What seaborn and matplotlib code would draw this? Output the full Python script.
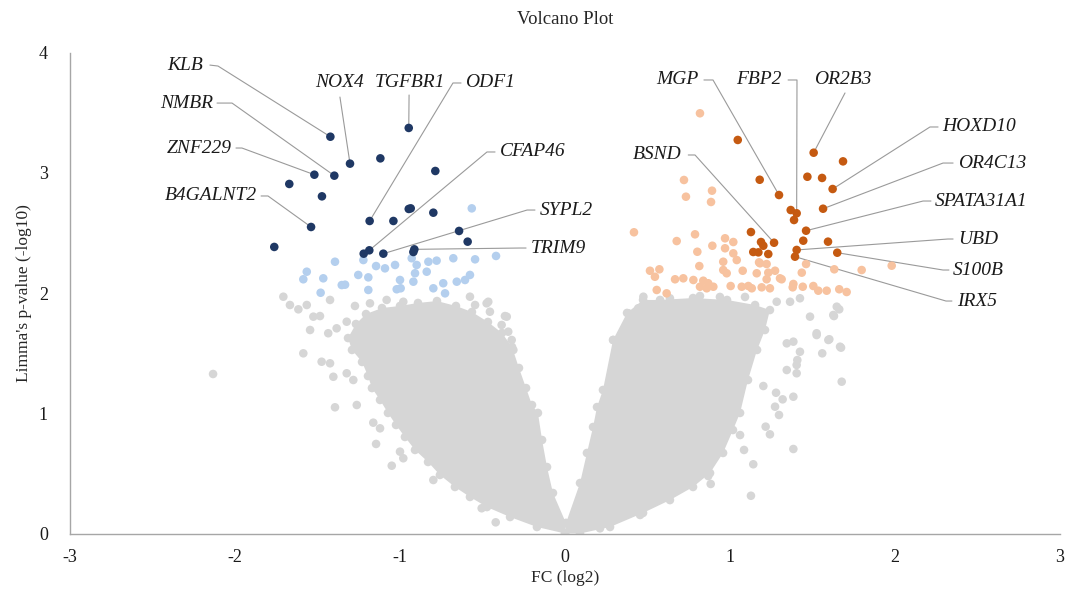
import numpy as np
import pandas as pd
import matplotlib
matplotlib.use("Agg")
import matplotlib.pyplot as plt
import seaborn as sns

# dense non-significant core of each lobe (outline)
core_left_fc = [0.0, -0.170, -0.333, -0.473, -0.576, -0.667, -0.758, -0.830, -0.909, -0.970,
                -1.024, -1.073, -1.121, -1.170, -1.194, -1.230, -1.291, -1.315, -1.267, -1.206,
                -1.109, -1.0, -0.891, -0.776, -0.661, -0.564, -0.467, -0.382, -0.321, -0.279,
                -0.236, -0.200, -0.164, -0.139, -0.109, -0.073, 0.006]
core_left_p = [0.0, 0.054, 0.137, 0.220, 0.304, 0.387, 0.487, 0.595, 0.695, 0.803,
               0.903, 1.003, 1.111, 1.210, 1.310, 1.427, 1.527, 1.626, 1.743, 1.826,
               1.876, 1.893, 1.918, 1.934, 1.893, 1.843, 1.760, 1.668, 1.552, 1.377,
               1.210, 1.069, 1.003, 0.778, 0.553, 0.337, 0.087]
core_right_fc = [0.0, 0.006, 0.091, 0.133, 0.170, 0.194, 0.230, 0.291, 0.376, 0.473,
                 0.576, 0.776, 0.982, 1.152, 1.242, 1.212, 1.164, 1.109, 1.061, 1.018,
                 0.958, 0.879, 0.776, 0.636, 0.473, 0.273, 0.091]
core_right_p = [0.0, 0.087, 0.420, 0.670, 0.886, 1.052, 1.194, 1.610, 1.835, 1.943,
                1.943, 1.959, 1.943, 1.901, 1.859, 1.693, 1.527, 1.277, 1.003, 0.861,
                0.670, 0.503, 0.387, 0.278, 0.171, 0.054, 0.0]

# scattered non-significant genes outside the dense core
grey_fc = [-1.707, -1.667, -1.616, -1.565, -1.525, -1.485, -1.545, -1.435, -1.384, -1.323,
           -1.273, -1.424, -1.586, -1.475, -1.424, -1.404, -1.323, -1.283, -1.394, -1.262,
           -1.162, -1.121, -1.145, -1.0, -1.050, -0.980, -0.798, -0.505, -0.420, -0.353,
           -0.313, -0.475, -0.576, -2.133, -0.465, -0.545, -0.455, -0.364, -0.384, -0.344,
           -0.323, -1.182, -1.081, -0.980,
           1.677, 1.384, 1.127, 1.141, 1.085, 1.242, 1.216, 1.061, 1.297, 1.273,
           1.384, 1.319, 1.279, 1.202, 1.404, 1.404, 1.344, 1.408, 1.424, 1.559,
           1.673, 1.602, 1.525, 1.485, 1.630, 1.662, 1.384, 1.344, 0.868, 0.883,
           0.212, 0.455, 0.384, 0.293, 0.475, 0.444, 0.505, 0.545, 0.576, 0.636,
           0.344, 1.283, 1.364, 1.424, 1.647, 1.626, 1.525, 1.596, 1.667, 0.818,
           0.939, 1.091]
grey_p = [1.970, 1.901, 1.865, 1.901, 1.804, 1.809, 1.693, 1.666, 1.707, 1.762,
          1.893, 1.943, 1.499, 1.429, 1.416, 1.304, 1.333, 1.277, 1.050, 1.069,
          0.922, 0.875, 0.745, 0.681, 0.564, 0.626, 0.445, 0.210, 0.093, 1.804,
          1.527, 1.915, 1.970, 1.327, 1.928, 1.901, 1.845, 1.809, 1.735, 1.679,
          1.610, 1.915, 1.943, 1.928,
          1.263, 0.703, 0.314, 0.576, 0.695, 0.825, 0.889, 0.819, 0.986, 1.055,
          1.138, 1.116, 1.171, 1.227, 1.333, 1.402, 1.360, 1.443, 1.512, 1.499,
          1.546, 1.616, 1.666, 1.804, 1.809, 1.865, 1.596, 1.582, 0.478, 0.412,
          0.043, 0.154, 1.832, 1.610, 1.970, 1.874, 1.859, 1.776, 1.928, 1.957,
          1.610, 1.928, 1.928, 1.957, 1.887, 1.818, 1.651, 1.610, 1.554, 1.976,
          1.968, 1.968]

# down-regulated, p < 0.01 but small effect
lightblue_fc = [-0.565, -1.394, -1.222, -1.145, -1.091, -1.030, -0.929, -0.899, -0.828, -0.778,
                -0.677, -0.545, -0.418, -1.565, -1.586, -1.465, -1.353, -1.481, -1.253, -1.192,
                -1.192, -1.0, -1.020, -0.909, -0.838, -0.798, -0.738, -0.727, -0.656, -0.606,
                -0.576, -0.919, -1.333, -0.996]
lightblue_p = [2.705, 2.261, 2.275, 2.225, 2.206, 2.234, 2.290, 2.234, 2.261, 2.270,
               2.290, 2.281, 2.309, 2.178, 2.115, 2.123, 2.067, 2.003, 2.151, 2.131,
               2.026, 2.109, 2.032, 2.165, 2.178, 2.040, 2.082, 1.998, 2.095, 2.109,
               2.151, 2.095, 2.070, 2.040]

# up-regulated, p < 0.01 but small effect
lightorange_fc = [0.818, 0.721, 0.891, 0.733, 0.885, 0.418, 0.677, 0.788, 0.970, 1.020,
                  0.893, 0.802, 0.970, 1.020, 1.041, 0.959, 1.176, 1.222, 1.461, 1.798,
                  1.980, 1.632, 0.515, 0.572, 0.545, 0.814, 0.959, 0.980, 1.077, 1.162,
                  1.232, 1.273, 1.435, 0.667, 0.717, 0.778, 0.838, 0.868, 0.818, 0.859,
                  0.899, 1.004, 1.071, 1.111, 1.132, 1.192, 1.222, 1.242, 1.313, 1.380,
                  1.441, 1.505, 1.535, 1.586, 1.662, 1.707, 0.556, 0.616, 1.182, 1.303,
                  1.384]
lightorange_p = [3.496, 2.941, 2.852, 2.802, 2.758, 2.506, 2.433, 2.489, 2.456, 2.425,
                 2.394, 2.344, 2.373, 2.331, 2.275, 2.261, 2.256, 2.242, 2.242, 2.192,
                 2.228, 2.198, 2.186, 2.198, 2.136, 2.225, 2.192, 2.165, 2.186, 2.165,
                 2.170, 2.186, 2.170, 2.115, 2.123, 2.109, 2.103, 2.082, 2.053, 2.040,
                 2.053, 2.059, 2.053, 2.059, 2.040, 2.048, 2.115, 2.040, 2.115, 2.048,
                 2.053, 2.059, 2.020, 2.020, 2.032, 2.009, 2.026, 1.998, 2.248, 2.123,
                 2.076]

# strongly down / up regulated, not labelled
navy_fc = [-1.119, -0.786, -1.671, -1.473, -0.935, -0.947, -0.798, -1.040, -0.642, -0.590,
           -1.762, -1.220, -0.919]
navy_p = [3.121, 3.016, 2.908, 2.805, 2.705, 2.700, 2.669, 2.600, 2.517, 2.428,
          2.384, 2.328, 2.342]
darkorange_fc = [1.047, 1.685, 1.469, 1.558, 1.180, 1.368, 1.388, 1.127, 1.188, 1.202,
                 1.444, 1.594, 1.141, 1.172, 1.232]
darkorange_p = [3.274, 3.096, 2.968, 2.958, 2.943, 2.691, 2.608, 2.508, 2.425, 2.394,
                2.436, 2.428, 2.342, 2.339, 2.325]

# labelled genes
gene_names = ["KLB", "NMBR", "ZNF229", "B4GALNT2", "NOX4", "TGFBR1", "ODF1", "CFAP46",
              "SYPL2", "TRIM9",
              "MGP", "FBP2", "OR2B3", "HOXD10", "OR4C13", "SPATA31A1", "UBD", "S100B",
              "IRX5", "BSND"]
gene_fc = [-1.422, -1.398, -1.519, -1.539, -1.303, -0.947, -1.184, -1.186, -1.101, -0.913,
           1.297, 1.404, 1.507, 1.622, 1.564, 1.461, 1.404, 1.650, 1.394, 1.267]
gene_p = [3.301, 2.977, 2.985, 2.550, 3.077, 3.374, 2.600, 2.356, 2.328, 2.364,
          2.816, 2.664, 3.168, 2.866, 2.702, 2.519, 2.359, 2.336, 2.303, 2.419]

# label layout: text x, text y, alignment, leader start x/y, elbow x/y
label_layout = {
    "KLB": (-2.194, 3.897, "right", -2.152, 3.897, -2.103, 3.889),
    "NMBR": (-2.133, 3.581, "right", -2.109, 3.581, -2.018, 3.581),
    "ZNF229": (-2.018, 3.207, "right", -1.994, 3.207, -1.958, 3.207),
    "B4GALNT2": (-1.867, 2.808, "right", -1.842, 2.808, -1.800, 2.808),
    "NOX4": (-1.364, 3.748, "center", -1.364, 3.631, -1.364, 3.631),
    "TGFBR1": (-0.939, 3.748, "center", -0.945, 3.648, -0.945, 3.648),
    "ODF1": (-0.606, 3.748, "left", -0.630, 3.748, -0.679, 3.748),
    "CFAP46": (-0.394, 3.174, "left", -0.424, 3.174, -0.473, 3.174),
    "SYPL2": (-0.152, 2.691, "left", -0.182, 2.691, -0.230, 2.691),
    "TRIM9": (-0.206, 2.375, "left", -0.236, 2.375, -0.273, 2.375),
    "MGP": (0.806, 3.773, "right", 0.842, 3.773, 0.897, 3.773),
    "FBP2": (1.315, 3.773, "right", 1.352, 3.773, 1.406, 3.773),
    "OR2B3": (1.685, 3.773, "center", 1.697, 3.665, 1.697, 3.665),
    "HOXD10": (2.285, 3.382, "left", 2.261, 3.382, 2.212, 3.382),
    "OR4C13": (2.382, 3.082, "left", 2.352, 3.082, 2.291, 3.082),
    "SPATA31A1": (2.242, 2.766, "left", 2.218, 2.766, 2.170, 2.766),
    "UBD": (2.382, 2.450, "left", 2.352, 2.450, 2.321, 2.450),
    "S100B": (2.352, 2.192, "left", 2.327, 2.192, 2.291, 2.192),
    "IRX5": (2.376, 1.934, "left", 2.345, 1.934, 2.309, 1.934),
    "BSND": (0.707, 3.149, "right", 0.747, 3.149, 0.788, 3.149),
}

GREY = "#d6d6d6"
palette = {
    "grey": GREY,
    "lightblue": "#b4cfee",
    "navy": "#1f3864",
    "lightorange": "#f7c29f",
    "darkorange": "#c55a11",
}

rows = []
for fc, p in zip(core_left_fc + core_right_fc + grey_fc, core_left_p + core_right_p + grey_p):
    rows.append((fc, p, "grey"))
for fc, p in zip(lightblue_fc, lightblue_p):
    rows.append((fc, p, "lightblue"))
for fc, p in zip(lightorange_fc, lightorange_p):
    rows.append((fc, p, "lightorange"))
for fc, p in zip(navy_fc, navy_p):
    rows.append((fc, p, "navy"))
for fc, p in zip(darkorange_fc, darkorange_p):
    rows.append((fc, p, "darkorange"))
for fc, p in zip(gene_fc, gene_p):
    rows.append((fc, p, "navy" if fc < 0 else "darkorange"))
df = pd.DataFrame(rows, columns=["fc", "p", "group"])

sns.set_style("white")
plt.rcParams["font.family"] = ["Liberation Serif", "DejaVu Serif"]
plt.rcParams["axes.unicode_minus"] = False

fig = plt.figure(figsize=(10.75, 5.97), dpi=100)
ax = fig.add_axes([70 / 1075, 1 - 533.5 / 597, 990 / 1075, 480.8 / 597])

ax.fill(core_left_fc, core_left_p, color=GREY, lw=0, zorder=1)
ax.fill(core_right_fc, core_right_p, color=GREY, lw=0, zorder=1)

sns.scatterplot(data=df, x="fc", y="p", hue="group", palette=palette, s=38,
                linewidth=0, legend=False, ax=ax, zorder=2)

for name, fc, p in zip(gene_names, gene_fc, gene_p):
    tx, ty, ha, sx, sy, ex, ey = label_layout[name]
    ax.plot([sx, ex, fc], [sy, ey, p], color="#9a9a9a", lw=0.8, zorder=1.5)
    ax.text(tx, ty, name, ha=ha, va="center", fontsize=14, style="italic", color="#1a1a1a")

ax.set_xlim(-3, 3)
ax.set_ylim(0, 4)
ax.set_xticks(range(-3, 4))
ax.set_yticks(range(0, 5))
for side in ["top", "right"]:
    ax.spines[side].set_visible(False)
for side in ["left", "bottom"]:
    ax.spines[side].set_color("#a6a6a6")
    ax.spines[side].set_linewidth(1)
ax.tick_params(direction="out", length=5, width=1, color="#a6a6a6",
               labelsize=13, labelcolor="#1a1a1a")
ax.tick_params(axis="y", pad=11)
ax.tick_params(axis="x", pad=6)

ax.set_xlabel("FC (log2)", fontsize=12.5, color="#262626", labelpad=3)
ax.set_ylabel("Limma's p-value (-log10)", fontsize=12.5, color="#262626", labelpad=5)
fig.text(565 / 1075, 1 - 19 / 597, "Volcano Plot", ha="center", va="center",
         fontsize=13.5, color="#262626")

fig.savefig("out.png", dpi=100)
